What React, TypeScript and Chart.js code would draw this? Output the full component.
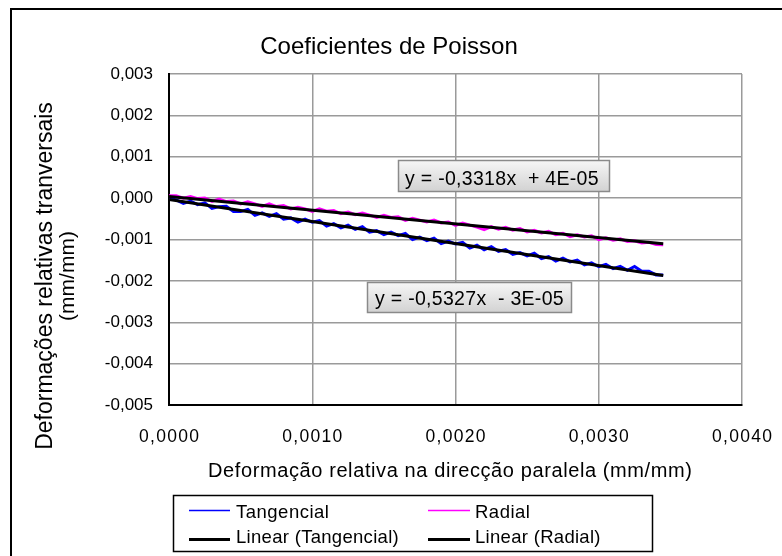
import React, { useEffect, useRef } from "react";
import { Chart, registerables } from "chart.js";

Chart.register(...registerables);

const TITLE = "Coeficientes de Poisson";
const X_TITLE = "Deformação relativa na direcção paralela (mm/mm)";
const Y_TITLE_1 = "Deformações relativas tranversais";
const Y_TITLE_2 = "(mm/mm)";
const SERIES_NAMES = ["Tangencial", "Radial", "Linear (Tangencial)", "Linear (Radial)"];

// strains in µm/m (micro-strain)
const STRAIN_PARALLEL = [
  0, 50, 100, 150, 200, 250, 300, 350, 400, 450, 500, 550, 600, 650, 700, 750, 800, 850, 900, 950,
  1000, 1050, 1100, 1150, 1200, 1250, 1300, 1350, 1400, 1450, 1500, 1550, 1600, 1650, 1700, 1750,
  1800, 1850, 1900, 1950, 2000, 2050, 2100, 2150, 2200, 2250, 2300, 2350, 2400, 2450, 2500, 2550,
  2600, 2650, 2700, 2750, 2800, 2850, 2900, 2950, 3000, 3050, 3100, 3150, 3200, 3250, 3300, 3350,
  3400, 3450,
];
const STRAIN_TANGENCIAL = [
  0, -42, -128, -70, -157, -113, -250, -206, -198, -325, -326, -273, -415, -356, -443, -375, -506,
  -478, -579, -506, -583, -544, -676, -618, -719, -656, -757, -689, -821, -787, -884, -821, -907,
  -854, -1001, -942, -1029, -970, -1097, -1039, -1110, -1072, -1209, -1140, -1247, -1174, -1285,
  -1242, -1358, -1315, -1397, -1333, -1460, -1412, -1523, -1450, -1541, -1498, -1615, -1566, -1658,
  -1600, -1706, -1648, -1745, -1651, -1768, -1770, -1856, -1858,
];
const STRAIN_RADIAL = [
  55, 58, -3, 40, -11, 2, -80, -21, -83, -69, -141, -92, -139, -201, -137, -204, -180, -262, -219,
  -260, -322, -258, -315, -297, -378, -335, -401, -358, -410, -466, -413, -469, -451, -538, -489,
  -531, -577, -529, -601, -577, -659, -600, -652, -699, -760, -687, -753, -705, -772, -733, -815,
  -776, -843, -805, -886, -848, -929, -886, -938, -909, -1001, -957, -1019, -986, -1047, -1029,
  -1085, -1067, -1119, -1125,
];
const MICRO = 1e6;

const TREND_TANGENCIAL = { slope: -0.5327, intercept: -0.00003 };
const TREND_RADIAL = { slope: -0.3318, intercept: 0.00004 };
const EQ_TANGENCIAL = "y = -0,5327x  - 3E-05";
const EQ_RADIAL = "y = -0,3318x  + 4E-05";

const X_MIN = 0, X_MAX = 0.004, X_STEP = 0.001;
const Y_MIN = -0.005, Y_MAX = 0.003, Y_STEP = 0.001;

const FONT = '"Liberation Sans", Arial, sans-serif';

function drawText(
  ctx: CanvasRenderingContext2D, s: string, x: number, y: number, size: number,
  align: CanvasTextAlign = "left", spacing = 0
) {
  ctx.save();
  ctx.font = `${size}px ${FONT}`;
  (ctx as any).letterSpacing = `${spacing}px`;
  ctx.textAlign = align;
  ctx.textBaseline = "alphabetic";
  ctx.fillStyle = "#000";
  const dx = align === "center" ? spacing / 2 : align === "right" ? spacing : 0;
  ctx.fillText(s, x + dx, y);
  ctx.restore();
}

const decorPlugin = {
  id: "decor",
  afterDraw(chart: any) {
    const ctx: CanvasRenderingContext2D = chart.ctx;
    ctx.save();
    ctx.strokeStyle = "#000";
    ctx.lineWidth = 2;
    ctx.strokeRect(11, 9, 900, 700);
    ctx.restore();

    drawText(ctx, TITLE, 389, 54, 24, "center");

    const xs = chart.scales.x;
    xs.ticks.forEach((t: any) => {
      const v = Math.abs(t.value) < 1e-12 ? 0 : t.value;
      drawText(ctx, v.toFixed(4).replace(".", ","), xs.getPixelForValue(t.value), 442, 17.5, "center", 1.3);
    });

    drawText(ctx, X_TITLE, 450, 477, 20, "center", 0.6);
    ctx.save();
    ctx.translate(52, 276);
    ctx.rotate(-Math.PI / 2);
    drawText(ctx, Y_TITLE_1, 0, 0, 23, "center");
    ctx.restore();
    ctx.save();
    ctx.translate(74, 276);
    ctx.rotate(-Math.PI / 2);
    drawText(ctx, Y_TITLE_2, 0, 0, 21, "center");
    ctx.restore();

    const box = (x: number, y: number, w: number, h: number, text: string, tx: number, ty: number) => {
      ctx.save();
      const g = ctx.createLinearGradient(0, y, 0, y + h);
      g.addColorStop(0, "#f6f6f6");
      g.addColorStop(1, "#d2d2d2");
      ctx.fillStyle = g;
      ctx.fillRect(x, y, w, h);
      ctx.strokeStyle = "#8a8a8a";
      ctx.lineWidth = 1.5;
      ctx.strokeRect(x, y, w, h);
      ctx.restore();
      drawText(ctx, text, tx, ty, 19.5, "left", 0.3);
    };
    box(398.5, 160.5, 211, 31, EQ_RADIAL, 405, 185);
    box(367.5, 282.5, 204, 30, EQ_TANGENCIAL, 375, 305);

    ctx.save();
    ctx.strokeStyle = "#000";
    ctx.lineWidth = 1.5;
    ctx.strokeRect(173.5, 495.5, 479, 56);
    const seg = (x1: number, x2: number, y: number, color: string, w: number) => {
      ctx.beginPath();
      ctx.strokeStyle = color;
      ctx.lineWidth = w;
      ctx.moveTo(x1, y);
      ctx.lineTo(x2, y);
      ctx.stroke();
    };
    seg(189, 230, 510.5, "#0000ff", 1.5);
    seg(428, 470, 510.5, "#ff00ff", 1.5);
    seg(189, 230, 539.5, "#000", 3);
    seg(428, 470, 539.5, "#000", 3);
    ctx.restore();
    drawText(ctx, SERIES_NAMES[0], 236, 518, 18.5, "left", 0.5);
    drawText(ctx, SERIES_NAMES[1], 475, 518, 18.5, "left", 0.5);
    drawText(ctx, SERIES_NAMES[2], 236, 543, 18.5, "left", 0.3);
    drawText(ctx, SERIES_NAMES[3], 475, 543, 18.5, "left", 0.3);
  },
};

export default function App() {
  const ref = useRef<HTMLCanvasElement | null>(null);
  useEffect(() => {
    document.body.style.margin = "0";
    const canvas = ref.current!;
    const xMin = Math.min(...STRAIN_PARALLEL) / MICRO;
    const xMax = Math.max(...STRAIN_PARALLEL) / MICRO;
    const trend = (t: { slope: number; intercept: number }) => [
      { x: xMin, y: t.slope * xMin + t.intercept },
      { x: xMax, y: t.slope * xMax + t.intercept },
    ];
    const chart = new Chart(canvas, {
      type: "scatter",
      data: {
        datasets: [
          {
            label: SERIES_NAMES[0],
            data: STRAIN_PARALLEL.map((x, i) => ({ x: x / MICRO, y: STRAIN_TANGENCIAL[i] / MICRO })),
            borderColor: "#0000ff",
            borderWidth: 3,
            showLine: true,
            pointRadius: 0,
            order: 2,
          },
          {
            label: SERIES_NAMES[1],
            data: STRAIN_PARALLEL.map((x, i) => ({ x: x / MICRO, y: STRAIN_RADIAL[i] / MICRO })),
            borderColor: "#ff00ff",
            borderWidth: 3,
            showLine: true,
            pointRadius: 0,
            order: 2,
          },
          {
            label: SERIES_NAMES[2],
            data: trend(TREND_TANGENCIAL),
            borderColor: "#000",
            borderWidth: 3,
            showLine: true,
            pointRadius: 0,
            order: 1,
          },
          {
            label: SERIES_NAMES[3],
            data: trend(TREND_RADIAL),
            borderColor: "#000",
            borderWidth: 3,
            showLine: true,
            pointRadius: 0,
            order: 1,
          },
        ],
      },
      options: {
        responsive: false,
        animation: false,
        events: [],
        layout: { padding: { left: 0, top: 74, right: 40, bottom: 0 } },
        plugins: { legend: { display: false }, tooltip: { enabled: false }, title: { display: false } },
        scales: {
          x: {
            type: "linear",
            min: X_MIN,
            max: X_MAX,
            ticks: { stepSize: X_STEP, display: false },
            grid: { color: "#9a9a9a", lineWidth: 1.5, drawTicks: false },
            border: { color: "#000", width: 2 },
            afterFit: (s: any) => { s.height = 151; },
          },
          y: {
            type: "linear",
            min: Y_MIN,
            max: Y_MAX,
            ticks: {
              stepSize: Y_STEP,
              padding: 16,
              color: "#000",
              font: { size: 17, family: FONT },
              callback: (v: any) => {
                const n = Math.abs(Number(v)) < 1e-12 ? 0 : Number(v);
                return n.toFixed(3).replace(".", ",");
              },
            },
            grid: { color: "#9a9a9a", lineWidth: 1.5, drawTicks: false },
            border: { color: "#000", width: 2 },
            afterFit: (s: any) => { s.width = 169; },
          },
        },
      },
      plugins: [decorPlugin],
    });
    return () => chart.destroy();
  }, []);
  return <canvas ref={ref} width={782} height={556} style={{ display: "block", width: 782, height: 556 }} />;
}
